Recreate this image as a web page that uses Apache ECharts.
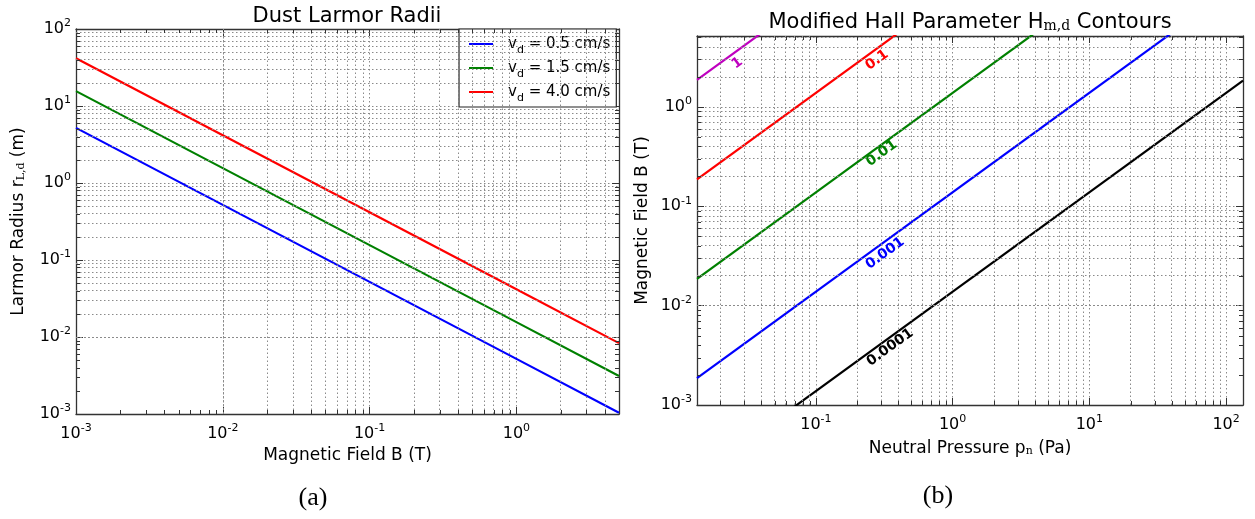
<!DOCTYPE html>
<html><head><meta charset="utf-8">
<script src="https://cdn.jsdelivr.net/npm/echarts@6/dist/echarts.min.js"></script>
<style>html,body{margin:0;padding:0;background:#fff}#c{width:1255px;height:519px}</style>
</head><body><div id="c"></div>
<script>
// ---- Panel (a): Dust Larmor radii ----
const fieldB = [0.001, 0.01, 0.1, 1, 5];
const radiusV05 = [5.2, 0.52, 0.052, 0.0052, 0.00104];
const radiusV15 = [15.6, 1.56, 0.156, 0.0156, 0.00312];
const radiusV40 = [41.6, 4.16, 0.416, 0.0416, 0.00832];
const legendNames = ['v_d = 0.5 cm/s', 'v_d = 1.5 cm/s', 'v_d = 4.0 cm/s'];
// ---- Panel (b): Hall parameter contours (straight lines in log-log) ----
const contourLevels = ['1', '0.1', '0.01', '0.001', '0.0001'];
const contourP = [[0.0135, 0.05], [0.0135, 0.5], [0.0135, 5], [0.0135, 50], [0.05, 133]];
const contourB = [[1.86, 6.9], [0.186, 6.9], [0.0186, 6.9], [0.00186, 6.9], [0.00069, 1.835]];
const labelP = [0.0266, 0.28, 0.303, 0.321, 0.349];
const labelB = [2.75, 2.95, 0.34, 0.0336, 0.0038];
// axis ranges
const axA = {xmin: 0.001, xmax: 5, ymin: 0.001, ymax: 100};
const axB = {xmin: 0.0135, xmax: 133, ymin: 0.001, ymax: 5.15};

const FONT = 'DejaVu Sans';
const lineColorsA = ['#0000ff', '#008000', '#ff0000'];
const lineColorsB = ['#bf00bf', '#ff0000', '#008000', '#0000ff', '#000000'];
const GRIDC = '#8a8a8a';
const DASH = [1.5, 2.5];

function powLabel(v) {
  const l = Math.log10(v), n = Math.round(l);
  if (Math.abs(l - n) > 1e-6) return '';
  return '{b|10}{s|' + n + '}';
}
const tickRich = {
  b: {fontSize: 16, fontFamily: FONT, color: '#000', lineHeight: 22},
  s: {fontSize: 11, fontFamily: FONT, color: '#000', lineHeight: 8, verticalAlign: 'top'}
};
function minorVals(min, max) {
  const out = [];
  for (let e = -4; e <= 3; e++) for (let k = 2; k <= 9; k++) {
    const v = k * Math.pow(10, e);
    if (v > min * 1.001 && v < max * 0.999) out.push(v);
  }
  return out;
}
function mainAxis(grid, min, max, pos, isX) {
  const labelOn = (pos === 'bottom' || pos === 'left');
  return {
    gridIndex: grid, type: 'log', logBase: 10, min: min, max: max, position: pos,
    axisLine: {show: true, onZero: false, lineStyle: {color: '#333', width: 1.3}},
    axisTick: {show: true, inside: true, length: 7, lineStyle: {color: '#333', width: 1}},
    axisLabel: {show: labelOn, formatter: powLabel, rich: tickRich, margin: isX ? 9 : 5,
                showMinLabel: true, showMaxLabel: true, hideOverlap: false},
    splitLine: {show: labelOn, lineStyle: {color: GRIDC, type: DASH, width: 1}},
    minorTick: {show: false}
  };
}
const subRich = {sub: {fontSize: 11, fontFamily: 'DejaVu Serif', color: '#000', lineHeight: 14, verticalAlign: 'bottom'}};
const nameStyle = {fontSize: 17, fontFamily: FONT, color: '#000', rich: subRich};

const xAxes = [
  Object.assign(mainAxis(0, axA.xmin, axA.xmax, 'bottom', true), {name: 'Magnetic Field B (T)', nameLocation: 'middle', nameGap: 33, nameTextStyle: nameStyle}),
  mainAxis(0, axA.xmin, axA.xmax, 'top', true),
  Object.assign(mainAxis(1, axB.xmin, axB.xmax, 'bottom', true), {name: 'Neutral Pressure p{sub|n} (Pa)', nameLocation: 'middle', nameGap: 35, nameTextStyle: nameStyle}),
  mainAxis(1, axB.xmin, axB.xmax, 'top', true)
];
const yAxes = [
  Object.assign(mainAxis(0, axA.ymin, axA.ymax, 'left', false), {name: 'Larmor Radius r{sub|L,d} (m)', nameLocation: 'middle', nameGap: 49, nameTextStyle: nameStyle}),
  mainAxis(0, axA.ymin, axA.ymax, 'right', false),
  Object.assign(mainAxis(1, axB.ymin, axB.ymax, 'left', false), {name: 'Magnetic Field B (T)', nameLocation: 'middle', nameGap: 46, nameTextStyle: nameStyle}),
  mainAxis(1, axB.ymin, axB.ymax, 'right', false)
];

function minorGridSeries(xi, yi, ax) {
  const d = [];
  minorVals(ax.xmin, ax.xmax).forEach(v => d.push({xAxis: v}));
  minorVals(ax.ymin, ax.ymax).forEach(v => d.push({yAxis: v}));
  return {
    type: 'line', xAxisIndex: xi, yAxisIndex: yi, data: [], z: 1, silent: true,
    markLine: {silent: true, symbol: ['none', 'none'], label: {show: false}, animation: false,
      lineStyle: {color: GRIDC, type: DASH, width: 1}, emphasis: {disabled: true}, data: d}
  };
}
function minorTickSeries(xi, yi, ax) {
  const d = [];
  minorVals(ax.xmin, ax.xmax).forEach(v => d.push([v, ax.ymin, 0]));
  minorVals(ax.ymin, ax.ymax).forEach(v => d.push([ax.xmin, v, 1]));
  const L = 4;
  return {
    type: 'custom', xAxisIndex: xi, yAxisIndex: yi, silent: true, z: 5, clip: false, animation: false,
    data: d, encode: {x: 0, y: 1},
    renderItem: function (params, api) {
      const kind = api.value(2);
      const st = {stroke: '#333', lineWidth: 1};
      if (kind === 0) {
        const v = api.value(0);
        const a = api.coord([v, ax.ymin]), b = api.coord([v, ax.ymax]);
        const x = Math.round(a[0]) + 0.5;
        return {type: 'group', children: [
          {type: 'line', shape: {x1: x, y1: a[1], x2: x, y2: a[1] - L}, style: st},
          {type: 'line', shape: {x1: x, y1: b[1], x2: x, y2: b[1] + L}, style: st}]};
      }
      const v = api.value(1);
      const a = api.coord([ax.xmin, v]), b = api.coord([ax.xmax, v]);
      const y = Math.round(a[1]) + 0.5;
      return {type: 'group', children: [
        {type: 'line', shape: {x1: a[0], y1: y, x2: a[0] + L, y2: y}, style: st},
        {type: 'line', shape: {x1: b[0], y1: y, x2: b[0] - L, y2: y}, style: st}]};
    }
  };
}

const series = [minorGridSeries(0, 0, axA), minorGridSeries(2, 2, axB),
                minorTickSeries(0, 0, axA), minorTickSeries(2, 2, axB)];
[radiusV05, radiusV15, radiusV40].forEach((r, i) => {
  series.push({
    name: legendNames[i], type: 'line', xAxisIndex: 0, yAxisIndex: 0, z: 3,
    data: fieldB.map((b, j) => [b, r[j]]), showSymbol: false, symbol: 'none',
    lineStyle: {color: lineColorsA[i], width: 2.2}, itemStyle: {color: lineColorsA[i]}, animation: false
  });
});
contourLevels.forEach((lv, i) => {
  series.push({
    name: 'H=' + lv, type: 'line', xAxisIndex: 2, yAxisIndex: 2, z: 3,
    data: contourP[i].map((p, j) => [p, contourB[i][j]]), showSymbol: false, symbol: 'none',
    lineStyle: {color: lineColorsB[i], width: 2.2}, animation: false
  });
});
series.push({
  type: 'scatter', xAxisIndex: 2, yAxisIndex: 2, z: 6, symbolSize: 2,
  itemStyle: {color: 'rgba(0,0,0,0)'}, silent: true, animation: false,
  data: contourLevels.map((lv, i) => ({
    value: [labelP[i], labelB[i]],
    label: {show: true, position: 'inside', formatter: lv, rotate: 36, color: lineColorsB[i], opacity: 1,
            fontSize: 14, fontWeight: 'bold', fontFamily: FONT}
  }))
});

const option = {
  backgroundColor: '#fff',
  animation: false,
  grid: [
    {left: 76, top: 29, width: 543, height: 385, containLabel: false},
    {left: 697, top: 36, width: 546, height: 369, containLabel: false}
  ],
  xAxis: xAxes,
  yAxis: yAxes,
  legend: {
    data: legendNames, left: 459, top: 29, orient: 'vertical',
    icon: 'rect', itemWidth: 24, itemHeight: 2, itemGap: 0,
    padding: [3, 6, 3, 10], borderColor: '#222', borderWidth: 1.2, backgroundColor: '#fff',
    formatter: n => n.replace('v_d', 'v{sub|d}'),
    textStyle: {fontSize: 15, fontFamily: FONT, color: '#000', lineHeight: 24, padding: [0, 0, 0, 10],
      rich: {sub: {fontSize: 11, fontFamily: FONT, color: '#000', lineHeight: 20, verticalAlign: 'bottom'}}},
    selectedMode: false
  },
  graphic: [
    {type: 'text', x: 347, y: 17, style: {text: 'Dust Larmor Radii', font: '21px "DejaVu Sans"', fill: '#000', textAlign: 'center', textVerticalAlign: 'middle'}},
    {type: 'text', x: 970, y: 23, style: {text: 'Modified Hall Parameter H{sub|m,d} Contours', font: '21px "DejaVu Sans"', fill: '#000', textAlign: 'center', textVerticalAlign: 'middle',
      rich: {sub: {font: '14px "DejaVu Serif"', fill: '#000', lineHeight: 17, verticalAlign: 'bottom'}}}},
    {type: 'text', x: 313, y: 498, style: {text: '(a)', font: '26px "Liberation Serif"', fill: '#000', textAlign: 'center', textVerticalAlign: 'middle'}},
    {type: 'text', x: 938, y: 496, style: {text: '(b)', font: '26px "Liberation Serif"', fill: '#000', textAlign: 'center', textVerticalAlign: 'middle'}}
  ],
  series: series
};
const chart = echarts.init(document.getElementById('c'), null, {renderer: 'canvas'});
chart.setOption(option);
</script></body></html>
